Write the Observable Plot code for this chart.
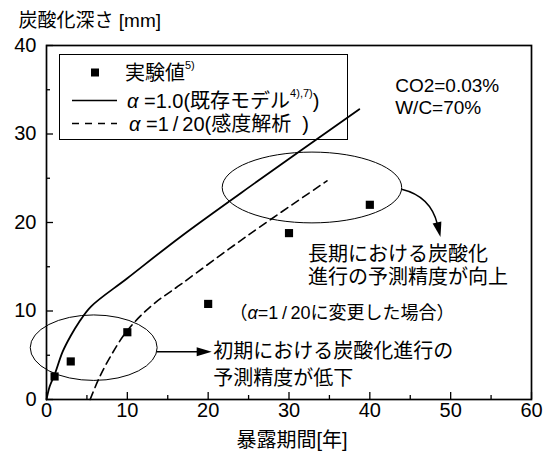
<!DOCTYPE html>
<html><head><meta charset="utf-8">
<script src="https://cdn.jsdelivr.net/npm/d3@7"></script>
<script src="https://cdn.jsdelivr.net/npm/@observablehq/plot@0.6"></script>
<style>
html,body{margin:0;padding:0;background:#fff}
#chart{width:549px;height:453px}
</style>
</head><body><div id="chart"></div>
<script>
// ---- data ----
const expYears = [1, 3, 10, 20, 30, 40];
const expDepth = [2.6, 4.3, 7.6, 10.8, 18.8, 22.0];
const modelYears = [0, 0.4, 1, 2, 3, 4, 5.5, 10, 16.6, 26, 38.7];
const modelDepth = [0, 1.5, 2.8, 5.4, 7.2, 8.7, 10.5, 13.7, 18.4, 24.6, 32.8];
const sensYears = [5.4, 6.5, 8, 10, 13, 16.6, 25, 34.7];
const sensDepth = [0, 2.4, 5.0, 7.8, 10.6, 13.0, 18.6, 24.7];
const xTicks = [0, 10, 20, 30, 40, 50, 60];
const xMinor = [5, 15, 25, 35, 45, 55];
const yTicks = [0, 10, 20, 30, 40];
const yMinor = [5, 15, 25, 35];
const yTitle = "炭酸化深さ [mm]";
const xTitle = "暴露期間[年]";
const condLines = ["CO2=0.03%", "W/C=70%"];
const legendLabels = [
  [{t: "実験値"}, {t: "5)", sup: true}],
  [{t: "α", it: true}, {t: " =1.0(既存モデル"}, {t: "4),7)", sup: true}, {t: ")"}],
  [{t: "α", it: true}, {t: " =1\u2009/\u200920(感度解析\u00A0\u00A0)"}]
];
const noteLong = ["長期における炭酸化", "進行の予測精度が向上"];
const noteEarly = ["初期における炭酸化進行の", "予測精度が低下"];
const noteCase = [{t: "（"}, {t: "α", it: true}, {t: "=1\u2009/\u200920に変更した場合）"}];
// annotation shapes in data units
const ellipses = [
  {cx: 32.9, cy: 23.9, rx: 11.1, ry: 4.0},
  {cx: 5.9, cy: 5.8, rx: 7.85, ry: 3.7}
];
const arrows = [
  {from: [44.0, 23.7], via: [47.6, 22.9], to: [48.8, 18.3]},
  {from: [13.7, 5.35], via: null, to: [20.5, 5.35]}
];

const FONT = "'Liberation Sans', Arial, 'Noto Sans CJK JP', sans-serif";
const modelPts = modelYears.map((t, i) => [t, modelDepth[i]]);
const sensPts = sensYears.map((t, i) => [t, sensDepth[i]]);

function richText(g, x, y, parts, size, anchor = "start") {
  const t = g.append("text").attr("x", x).attr("y", y)
    .attr("font-size", size).attr("dominant-baseline", "central")
    .attr("text-anchor", anchor).attr("fill", "black").attr("stroke", "none");
  let raised = false;
  for (const p of parts) {
    const s = t.append("tspan").text(p.t);
    if (p.it) s.attr("font-style", "italic");
    if (p.sup) { s.attr("font-size", size * 0.55).attr("dy", -size * 0.38); raised = true; }
    else if (raised) { s.attr("dy", size * 0.38); raised = false; }
  }
  return t;
}

function legendMark(index, scales, values, dims) {
  const g = d3.create("svg:g").attr("font-family", FONT);
  g.append("rect").attr("x", 59.5).attr("y", 54.5).attr("width", 288).attr("height", 85)
    .attr("fill", "white").attr("stroke", "black").attr("stroke-width", 1);
  const rows = [72.5, 100.5, 123.5];
  g.append("rect").attr("x", 91).attr("y", rows[0] - 4).attr("width", 8).attr("height", 8).attr("fill", "black");
  g.append("line").attr("x1", 72).attr("x2", 117).attr("y1", rows[1]).attr("y2", rows[1])
    .attr("stroke", "black").attr("stroke-width", 1.6);
  g.append("line").attr("x1", 72).attr("x2", 117).attr("y1", rows[2]).attr("y2", rows[2])
    .attr("stroke", "black").attr("stroke-width", 1.5).attr("stroke-dasharray", "7,6");
  richText(g, 125, rows[0], legendLabels[0], 20);
  richText(g, 127, rows[1], legendLabels[1], 20);
  richText(g, 129, rows[2], legendLabels[2], 20);
  return g.node();
}

function annotationMark(index, scales) {
  const x = scales.x, y = scales.y;
  const g = d3.create("svg:g").attr("font-family", FONT);
  for (const e of ellipses) {
    g.append("ellipse").attr("cx", x(e.cx)).attr("cy", y(e.cy))
      .attr("rx", x(e.cx + e.rx) - x(e.cx)).attr("ry", y(e.cy) - y(e.cy + e.ry))
      .attr("fill", "none").attr("stroke", "black").attr("stroke-width", 1);
  }
  for (const a of arrows) {
    const p0 = [x(a.from[0]), y(a.from[1])];
    const p2 = [x(a.to[0]), y(a.to[1])];
    const p1 = a.via ? [x(a.via[0]), y(a.via[1])] : null;
    const ref = p1 || p0;
    let dx = p2[0] - ref[0], dy = p2[1] - ref[1];
    const L = Math.hypot(dx, dy); dx /= L; dy /= L;
    const len = 15, hw = 4.5;
    const base = [p2[0] - dx * len, p2[1] - dy * len];
    const path = d3.path();
    path.moveTo(p0[0], p0[1]);
    if (p1) path.quadraticCurveTo(p1[0], p1[1], base[0] + dx * 2, base[1] + dy * 2);
    else path.lineTo(base[0] + dx * 2, base[1] + dy * 2);
    g.append("path").attr("d", path.toString()).attr("fill", "none")
      .attr("stroke", "black").attr("stroke-width", 1.5);
    const nx = -dy, ny = dx;
    g.append("path").attr("d",
      `M${p2[0]},${p2[1]}L${base[0] + nx * hw},${base[1] + ny * hw}L${base[0] - nx * hw},${base[1] - ny * hw}Z`)
      .attr("fill", "black");
  }
  // texts
  richText(g, x(32.4), y(16.4), [{t: noteLong[0]}], 20);
  richText(g, x(32.4), y(13.8), [{t: noteLong[1]}], 20);
  richText(g, x(20.7), y(5.4), [{t: noteEarly[0]}], 20);
  richText(g, x(20.7), y(2.35), [{t: noteEarly[1]}], 20);
  richText(g, x(22.7), y(9.7), noteCase, 18);
  richText(g, x(43.2), y(35.5), [{t: condLines[0]}], 19);
  richText(g, x(43.2), y(33.0), [{t: condLines[1]}], 19);
  return g.node();
}

const chart = Plot.plot({
  width: 549,
  height: 453,
  marginLeft: 46,
  marginRight: 18,
  marginTop: 45,
  marginBottom: 54,
  style: {fontFamily: FONT, fontSize: "19px", color: "black", background: "white"},
  x: {domain: [0, 60]},
  y: {domain: [0, 40]},
  marks: [
    legendMark,
    Plot.axisX({ticks: xTicks, tickSize: -7, tickPadding: 10.5, fontSize: 20, label: null, strokeWidth: 1.3}),
    Plot.axisX({ticks: xMinor, tickSize: -4, tickFormat: () => "", label: null, strokeWidth: 1.3}),
    Plot.axisY({ticks: yTicks, tickSize: -7, tickPadding: 17, fontSize: 20, label: null, strokeWidth: 1.3}),
    Plot.axisY({ticks: yMinor, tickSize: -4, tickFormat: () => "", label: null, strokeWidth: 1.3}),
    Plot.frame({stroke: "black", strokeWidth: 1.7}),
    Plot.line(sensPts, {x: d => d[0], y: d => d[1], curve: "catmull-rom", stroke: "black", strokeWidth: 1.6, strokeDasharray: "8,5"}),
    Plot.line(modelPts, {x: d => d[0], y: d => d[1], curve: "catmull-rom", stroke: "black", strokeWidth: 1.8}),
    Plot.dot(expYears.map((t, i) => i), {x: i => expYears[i], y: i => expDepth[i], symbol: "square", r: 4.6, fill: "black", stroke: null}),
    annotationMark,
    Plot.text([yTitle], {frameAnchor: "top-left", text: d => d, dx: -28, dy: -25, textAnchor: "start", lineAnchor: "middle", fontSize: 19}),
    Plot.text([xTitle], {frameAnchor: "bottom", text: d => d, dx: 3, dy: 41, lineAnchor: "middle", fontSize: 20})
  ]
});
document.getElementById("chart").append(chart);
</script>
</body></html>
